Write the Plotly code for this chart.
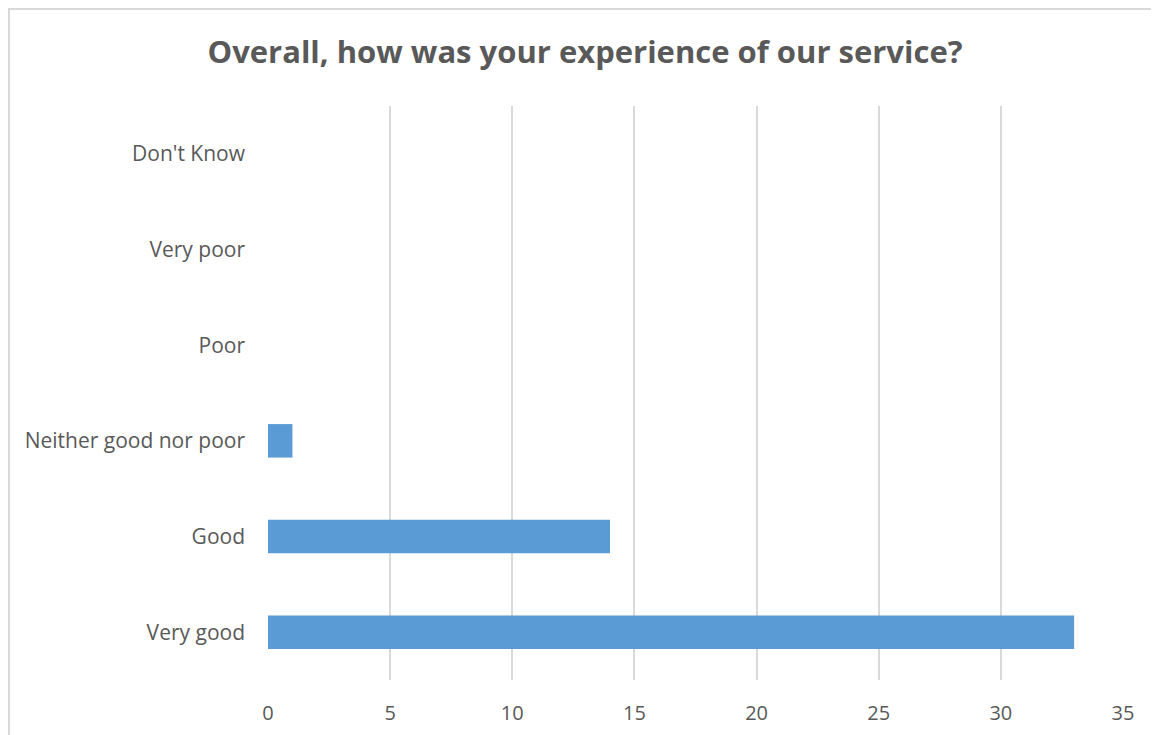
import plotly.graph_objects as go

categories = ["Very good", "Good", "Neither good nor poor", "Poor", "Very poor", "Don't Know"]
values = [33, 14, 1, 0, 0, 0]
x_ticks = [0, 5, 10, 15, 20, 25, 30, 35]
title_text = "Overall, how was your experience of our service?"

# page body has an 8px margin; figure is offset by it
OFF = 8
W, H = 1159 - OFF, 735 - OFF
ml, mt = 268 - OFF, 106 - OFF
mb = H - (680 - OFF)
mr = W - (1123 - OFF)
pw, ph = W - ml - mr, H - mt - mb

fig = go.Figure(go.Bar(
    y=categories, x=values, orientation="h",
    marker=dict(color="#5B9BD5", line=dict(width=0)),
    hoverinfo="x+y",
))

fig.update_layout(
    width=W, height=H,
    margin=dict(l=ml, r=mr, t=mt, b=mb),
    paper_bgcolor="white", plot_bgcolor="white",
    bargap=0.65,
    showlegend=False,
    font=dict(family="Open Sans", color="#595959"),
    title=dict(text="<b>" + title_text + "</b>", x=(585 - OFF) / W, xanchor="center",
               y=1 - (52 - OFF) / H, yanchor="middle",
               font=dict(size=31, color="#595959", family="Open Sans")),
    xaxis=dict(range=[0, 35], tickvals=x_ticks, showgrid=True, gridcolor="#D9D9D9",
               gridwidth=2, zeroline=False, showline=False, automargin=False,
               tickfont=dict(size=20, color="#595959"), ticks="", ticklabelstandoff=19),
    yaxis=dict(categoryorder="array", categoryarray=categories, showgrid=False,
               zeroline=False, showline=False, ticks="", automargin=False,
               tickfont=dict(size=21, color="#595959"), ticklabelstandoff=22),
)

# outer chart border (partially clipped like the reference)
fig.add_shape(type="rect", xref="paper", yref="paper",
              x0=(9 - OFF - ml) / pw, x1=(W + 20 - ml) / pw,
              y0=(H - mb - (H + 20)) / ph, y1=(H - mb - (9 - OFF)) / ph,
              line=dict(color="#D9D9D9", width=2), fillcolor="rgba(0,0,0,0)", layer="below")

fig.write_html("out.html")
